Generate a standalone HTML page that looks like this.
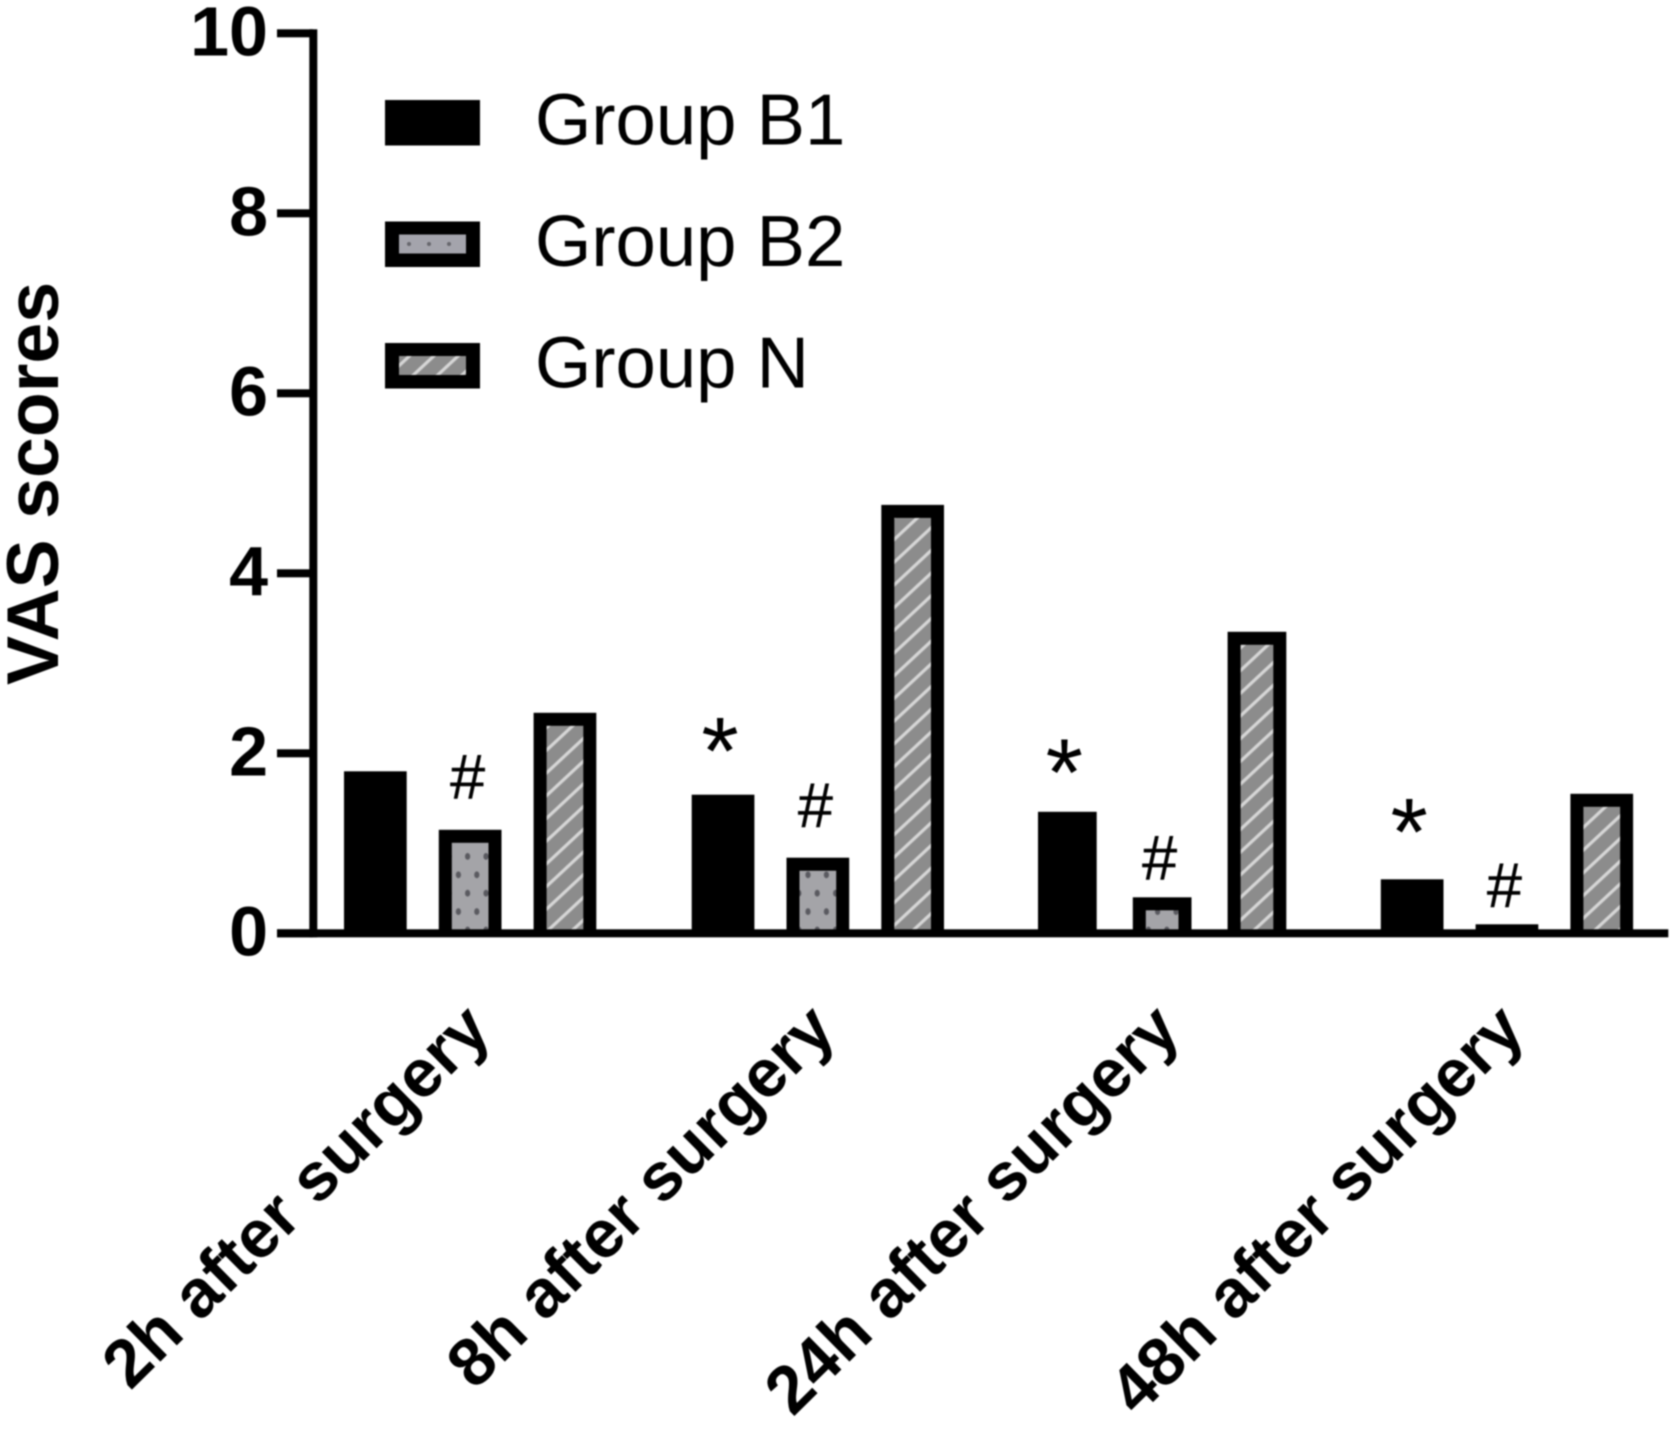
<!DOCTYPE html>
<html>
<head>
<meta charset="utf-8">
<title>VAS scores</title>
<style>
html,body{margin:0;padding:0;background:#fff;}
#chart{display:block;width:1675px;height:1431px;filter:blur(0.9px);}
text{font-family:"Liberation Sans",Arial,sans-serif;fill:#000;}
</style>
</head>
<body>
<svg id="chart" xmlns="http://www.w3.org/2000/svg" width="1675" height="1431" viewBox="0 0 1675 1431">
<defs>
<pattern id="dots" patternUnits="userSpaceOnUse" x="449.2" y="847" width="18.4" height="36.8">
<rect width="18.4" height="36.8" fill="#a4a4a8"/>
<ellipse cx="18.4" cy="9.4" rx="2.6" ry="3.4" fill="#5a5a60"/>
<ellipse cx="0" cy="9.4" rx="2.6" ry="3.4" fill="#5a5a60"/>
<ellipse cx="9.2" cy="27.8" rx="2.6" ry="3.4" fill="#5a5a60"/>
</pattern>
<pattern id="dots-legend" patternUnits="userSpaceOnUse" x="399" y="235" width="20" height="18">
<rect width="20" height="18" fill="#a4a4ac"/>
<circle cx="10" cy="9" r="2" fill="#66666c"/>
</pattern>
<pattern id="hatch" patternUnits="userSpaceOnUse" width="16.6" height="16.6" patternTransform="rotate(-43)">
<rect width="16.6" height="16.6" fill="#8c8c8c"/>
<rect y="6.8" width="16.6" height="3.2" fill="#d6d6d6"/>
</pattern>
</defs>
<rect width="1675" height="1431" fill="#fff"/>
<g id="marks"></g>
<g id="axes"></g>
<g id="notes"></g>
<text transform="translate(58,685) rotate(-90)" font-size="73.5" font-weight="700">VAS scores</text>
<g id="legend"></g>
</svg>
<script>
const categories = ['2h after surgery', '8h after surgery', '24h after surgery', '48h after surgery'];
const seriesNames = ['Group B1', 'Group B2', 'Group N'];
const groupB1 = [1.8, 1.54, 1.35, 0.6];
const groupB2 = [1.15, 0.84, 0.4, 0.1];
const groupN = [2.45, 4.76, 3.35, 1.55];
const yTicks = [0, 2, 4, 6, 8, 10];
const starLevels = [null, 2.05, 1.81, 1.15];
const hashLevels = [1.5, 1.18, 0.6, 0.29];

const NS = 'http://www.w3.org/2000/svg';
const fills = ['#000', 'url(#dots)', 'url(#hatch)'];
const allSeries = [groupB1, groupB2, groupN];
const yAxisZero = 933.3, pxPerUnit = 90;
function y(v) { return yAxisZero - v * pxPerUnit; }
function groupX(g) { return 344 + g * 345.6 + (g === 1 ? 2.1 : g === 2 ? 2.8 : 0); }
function barX(g, s) { return groupX(g) + s * 94.8; }
function barW(g) { return g === 2 ? 58.7 : 62.7; }
function make(tag, attrs, parent) {
  const el = document.createElementNS(NS, tag);
  for (const k in attrs) el.setAttribute(k, attrs[k]);
  parent.appendChild(el);
  return el;
}
const marks = document.getElementById('marks');
const axes = document.getElementById('axes');
const notes = document.getElementById('notes');
const legend = document.getElementById('legend');
const border = 13;

allSeries.forEach(function (vals, s) {
  vals.forEach(function (v, g) {
    const x = barX(g, s), w = barW(g), top = y(v), h = y(0) - top;
    const outer = make('rect', {x: x, y: top, width: w, height: h, fill: '#000'}, marks);
    
    
    if (s > 0 && h > border) {
      const inner = make('rect', {x: x + border, y: top + border, width: w - 2 * border, height: h - border, fill: fills[s]}, marks);
      
      
    }
  });
});

const yLine = make('rect', {x: 309.3, y: y(10) - 4, width: 8, height: y(0) - y(10) + 8, fill: '#000'}, axes);


const xLine = make('rect', {x: 277, y: y(0) - 4, width: 1391.3, height: 8, fill: '#000'}, axes);



yTicks.forEach(function (t) {
  const tick = make('rect', {x: 277, y: y(t) - 4, width: 36, height: 8, fill: '#000'}, axes);
  
  
  const label = make('text', {x: 268, y: y(t) + 22, 'text-anchor': 'end', 'font-size': 70, 'font-weight': 700}, axes);
  
  
  label.textContent = t;
});

categories.forEach(function (c, g) {
  const ax = 493.5 + g * 344.6, ay = 1033;
  const label = make('text', {transform: 'translate(' + ax + ',' + ay + ') rotate(-44.6)', 'text-anchor': 'end', 'font-size': 67.5, 'font-weight': 700}, axes);
  
  
  label.textContent = c;
});

starLevels.forEach(function (lv, g) {
  if (lv === null) return;
  const star = make('text', {x: barX(g, 0) + barW(g) / 2 - 3, y: y(lv) + 35, 'text-anchor': 'middle', 'font-size': 96}, notes);
  
  
  star.textContent = '*';
});
hashLevels.forEach(function (lv, g) {
  const hash = make('text', {x: barX(g, 1) + barW(g) / 2 - 2.5, y: y(lv), 'text-anchor': 'middle', 'font-size': 63, stroke: '#000', 'stroke-width': 0.4}, notes);
  
  
  hash.textContent = '#';
});

const legendFills = ['#000', 'url(#dots-legend)', 'url(#hatch)'];
seriesNames.forEach(function (name, s) {
  const ly = 100 + s * 121.5;
  const swatch = make('rect', {x: 385, y: ly, width: 95, height: 45.5, fill: '#000'}, legend);
  
  
  if (s > 0) {
    const inner = make('rect', {x: 399, y: ly + 13, width: 67, height: 19, fill: legendFills[s]}, legend);
    
    
  }
  const label = make('text', {x: 535, y: ly + 44.5, 'font-size': 72.5}, legend);
  
  
  label.textContent = name;
});
</script>
</body>
</html>
